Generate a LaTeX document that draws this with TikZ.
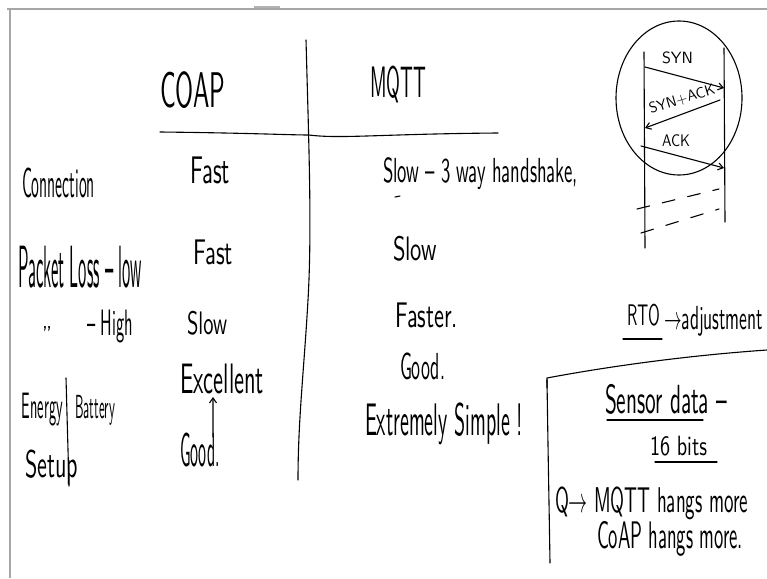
\documentclass[tikz,border=0pt]{standalone}
\usepackage{graphicx}
\usetikzlibrary{arrows.meta}

% text box stretched to a given width and total height (in pt)
\newcommand{\hw}[3]{\resizebox*{#1pt}{#2pt}{\sffamily #3}}

\begin{document}
\begin{tikzpicture}[x=1pt,y=-1pt,
  ink/.style={draw=black,line width=1.1pt,line cap=round,line join=round},
  txt/.style={anchor=north west,inner sep=0pt,outer sep=0pt},
  hwarrow/.style={ink,-{Straight Barb[length=5pt,width=7pt]}},
  frame/.style={draw=black!35,line width=1.6pt}]

% page and slide frame
\fill[white] (0,0) rectangle (767,578);
\useasboundingbox (0,0) rectangle (767,578);
\draw[frame] (7,9) -- (767,9);
\draw[frame] (10,9) -- (10,578);
\draw[draw=black!30,line width=2pt] (254,7) -- (280,7);

% table rules
\draw[ink] (306,40) .. controls (309,150) and (312,230) .. (308,300)
  .. controls (304,370) and (298,420) .. (298,480);
\draw[ink] (160,132) .. controls (250,133) and (290,135) .. (309,135)
  .. controls (340,139) and (380,134) .. (498,133);

% column heads
\node[txt] (coap) at (160,72) {\hw{65}{37}{COAP}};
\node[txt] (mqtt) at (370,66) {\hw{56}{37}{MQTT}};

% rows
\node[txt] (conn) at (22,168) {\hw{73}{30}{Connection}};
\node[txt] (fast1) at (190,157) {\hw{40}{27}{Fast}};
\node[txt] (slow1) at (383,158) {\hw{195}{32}{Slow -- 3 way handshake,}};
\draw[ink] ([xshift=12pt,yshift=-7pt]slow1.south west) -- ++(5,-1);

\node[txt] (packet) at (18,246) {\hw{124}{42}{Packet Loss -- low}};
\node[txt] (fast2) at (193,240) {\hw{40}{25}{Fast}};
\node[txt] (slow2) at (393,236) {\hw{44}{25}{Slow}};

\node[txt] (ditto) at (42,326) {\hw{10}{16}{''}};
\node[txt] (high) at (87,310) {\hw{46}{33}{-- High}};
\node[txt] (slow3) at (187,311) {\hw{40}{24}{Slow}};
\node[txt] (faster) at (395,303) {\hw{63}{25}{Faster.}};

\node[txt] (exc) at (180,364) {\hw{84}{30}{Excellent}};
\node[txt] (good2) at (400,353) {\hw{45}{27}{Good.}};

\node[txt] (energy) at (22,393) {\hw{41}{33}{Energy}};
\node[txt] (battery) at (75,395) {\hw{40}{30}{Battery}};
\draw[ink] ([xshift=3pt,yshift=15pt]energy.north east) -- ([xshift=6pt,yshift=-60pt]energy.south east);

\node[txt] (setup) at (25,450) {\hw{53}{35}{Setup}};
\node[txt] (good1) at (180,433) {\hw{40}{34}{Good.}};
\draw[hwarrow] ([xshift=13pt,yshift=-4pt]good1.north) -- ([xshift=-9pt,yshift=-3pt]exc.south);

\node[txt] (simple) at (365,403) {\hw{158}{42}{Extremely Simple !}};

% three way handshake sketch
\coordinate (cl1) at (644,52);  \coordinate (cl2) at (645,248);
\coordinate (sv1) at (724,48);  \coordinate (sv2) at (725,222);
\draw[ink] (cl1) -- (cl2);
\draw[ink] (sv1) -- (sv2);
\coordinate (a1) at (645,67);  \coordinate (b1) at (724,88);
\coordinate (a2) at (720,100); \coordinate (b2) at (645,128);
\coordinate (a3) at (641,146); \coordinate (b3) at (724,168);
\draw[hwarrow] (a1) -- (b1);
\draw[hwarrow] (a2) -- (b2);
\draw[hwarrow] (a3) -- (b3);
\node[txt] (syn) at (662,52) {\hw{31}{12}{SYN}};
\node[inner sep=0pt,rotate=17] (synack) at (682,99) {\hw{68}{12}{SYN+ACK}};
\node[txt] (ack) at (662,135) {\hw{28}{12}{ACK}};
\draw[ink] (679,98) ellipse [x radius=63,y radius=77];
\draw[ink,dash pattern=on 13pt off 13pt] (637,209) -- (719,189);
\draw[ink,dash pattern=on 13pt off 13pt] (641,233) -- (719,209);

% RTO note
\node[txt] (rto) at (627,304) {\hw{33}{22}{RTO}};
\node[txt] (adj) at (664,306) {\hw{99}{30}{$\rightarrow$adjustment}};
\draw[ink] ([xshift=-4pt,yshift=-13pt]rto.south west) -- ([xshift=2pt,yshift=-13pt]rto.south east);

% sensor data box
\draw[ink] (547,388) -- (547,378) .. controls (600,368) and (680,356) .. (767,350);
\draw[ink] (547,380) .. controls (548,450) and (549,500) .. (550,563);
\node[txt] (sensor) at (605,384) {\hw{122}{30}{Sensor data --}};
\draw[ink] ([xshift=2pt,yshift=-6pt]sensor.south west) -- ([xshift=-24pt,yshift=-6pt]sensor.south east);
\node[txt] (bits) at (650,436) {\hw{57}{20}{16 bits}};
\draw[ink] ([xshift=5pt,yshift=-6pt]bits.south west) -- ([xshift=10pt,yshift=-6pt]bits.south east);
\node[txt] (q) at (555,487) {\hw{193}{33}{Q$\rightarrow$ MQTT hangs more}};
\node[txt] (coap2) at (597,521) {\hw{146}{35}{CoAP hangs more.}};
\end{tikzpicture}
\end{document}
